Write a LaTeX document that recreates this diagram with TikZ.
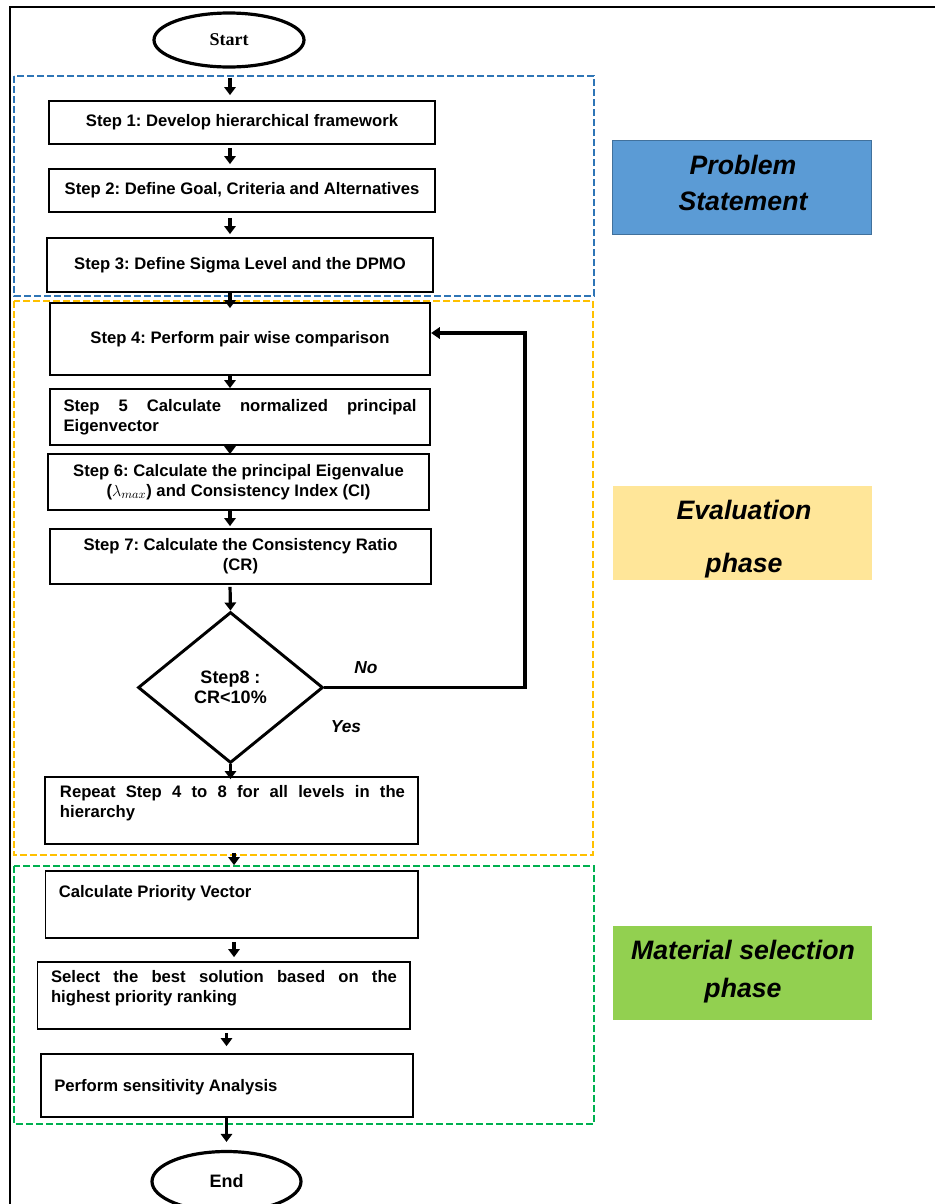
\documentclass[tikz,border=0pt]{standalone}
\usepackage{fontspec}
\setmainfont{Liberation Sans}
\newfontfamily\serifbf{Liberation Serif}
\usetikzlibrary{arrows.meta,shapes.geometric}
\definecolor{blueDash}{HTML}{2E75B6}
\definecolor{yellowDash}{HTML}{FFC000}
\definecolor{greenDash}{HTML}{00B050}
\definecolor{psFill}{HTML}{5B9BD5}
\definecolor{psBorder}{HTML}{41719C}
\definecolor{evFill}{HTML}{FFE699}
\definecolor{matFill}{HTML}{92D050}
\newcommand\myNoHyph{\hyphenpenalty 10000\relax\tolerance 10000\relax\frenchspacing}
\begin{document}
\begin{tikzpicture}[x=0.75pt,y=-0.75pt,
  box/.style={draw,line width=1.3pt,rectangle,inner sep=0pt,align=center,
    font=\fontsize{12.5}{15}\selectfont\bfseries\myNoHyph},
  txt/.style={inner sep=0pt,font=\fontsize{12.5}{15}\selectfont\bfseries\myNoHyph},
  flowarr/.style={line width=2.4pt,-{Triangle[length=6pt,width=8.5pt]}},
  frame/.style={line width=1.1pt,dash pattern=on 5pt off 2.5pt},
  phase/.style={inner sep=0pt,minimum width=194.25pt,minimum height=70.5pt},
  phasetext/.style={inner sep=0pt,align=center},
  term/.style={ellipse,draw,line width=2.4pt,inner sep=0pt},
  yn/.style={inner sep=0pt,font=\fontsize{13}{15}\selectfont\bfseries\itshape}]
\useasboundingbox (0,0) rectangle (935,1204);
\clip (0,0) rectangle (935,1204);
\fill[white] (0,0) rectangle (935,1204);

% outer border
\draw[line width=1.5pt] (10,1215) -- (10,7) -- (945,7);

% phase frames
\draw[frame,draw=blueDash] (14,76) rectangle (594,296);
\draw[frame,draw=yellowDash] (14,301) rectangle (593,855);
\draw[frame,draw=greenDash] (14,866) rectangle (594,1124);

% axis helpers
\coordinate (ax) at (230,0);
\coordinate (bx) at (234,0);
\coordinate (cx) at (226.5,0);
\coordinate (fbx) at (525,0);

% nodes
\node[term,minimum width=112.5pt,minimum height=40.5pt] (start) at (229,40)
  {\serifbf\fontsize{13.5}{15}\selectfont\bfseries Start};
\node[box,minimum width=289.5pt,minimum height=32.25pt] (s1) at (242,122.5)
  {Step 1: Develop hierarchical framework};
\node[box,minimum width=289.5pt,minimum height=32.25pt] (s2) at (242,190.5)
  {Step 2: Define Goal, Criteria and Alternatives};
\node[box,minimum width=289pt,minimum height=40.5pt] (s3) at (240,265)
  {Step 3: Define Sigma Level and the DPMO};
\node[box,minimum width=285.4pt,minimum height=54pt] (s4) at (240,339)
  {Step 4: Perform pair wise comparison};
\node[box,minimum width=285.4pt,minimum height=42pt,text width=264.75pt,align=justify] (s5) at (240,417)
  {Step 5 Calculate normalized principal Eigenvector};
\node[box,minimum width=285.75pt,minimum height=42pt] (s6) at (238.5,482)
  {Step 6: Calculate the principal Eigenvalue\\($\lambda_{max}$) and Consistency Index (CI)};
\node[box,minimum width=285.75pt,minimum height=41.25pt] (s7) at (240.5,556.5)
  {Step 7: Calculate the Consistency Ratio\\(CR)};
\node[diamond,draw,line width=2.2pt,minimum width=138.75pt,minimum height=113.25pt,inner sep=0pt,
  align=center,font=\fontsize{13.5}{15}\selectfont\bfseries] (d8) at (230.5,687.5)
  {Step8 :\\CR<10\%};
\node[box,minimum width=279.75pt,minimum height=50.25pt] (r) at (231.5,810.5) {};
\node[txt,text width=258.75pt,align=justify] (rt) at (232.5,803.5)
  {Repeat Step 4 to 8 for all levels in the hierarchy};
\node[box,minimum width=279.4pt,minimum height=50.25pt] (pv) at (231.75,904.5) {};
\node[txt,anchor=west] (pvt) at (58.5,893) {Calculate Priority Vector};
\node[box,minimum width=279.4pt,minimum height=50.25pt] (sel) at (223.75,995.5) {};
\node[txt,text width=259.5pt,align=justify] (selt) at (224,988.5)
  {Select the best solution based on the highest priority ranking};
\node[box,minimum width=279.2pt,minimum height=47.25pt] (perf) at (226.85,1085.5) {};
\node[txt,anchor=west] (perft) at (54,1087) {Perform sensitivity Analysis};
\node[term,minimum width=111.75pt,minimum height=45pt] (end) at (226.5,1181.5)
  {\fontsize{13.5}{15}\selectfont\bfseries End};

% labels
\node[yn] (no) at (366,668) {No};
\node[yn] (yes) at (346,727) {Yes};

% phase labels
\node[phase,fill=psFill,draw=psBorder,line width=0.8pt] (ps) at (742,187.5) {};
\node[phasetext,font=\fontsize{20}{27}\selectfont\bfseries\itshape] (pst) at (743,183)
  {Problem\\Statement};
\node[phase,fill=evFill] (ev) at (742.5,533) {};
\node[phasetext,font=\fontsize{20}{39.75}\selectfont\bfseries\itshape] (evt) at (744,539.5)
  {Evaluation\\phase};
\node[phase,fill=matFill] (mat) at (742.5,973) {};
\node[phasetext,font=\fontsize{20}{28.5}\selectfont\bfseries\itshape] (matt) at (743,972)
  {Material selection\\phase};

% connectors
\draw[flowarr,shorten <=6.75pt,shorten >=3.75pt] (start.south -| ax) -- (s1.north -| ax);
\draw[flowarr,shorten <=2.25pt,shorten >=3pt] (s1.south -| ax) -- (s2.north -| ax);
\draw[flowarr,shorten <=3.75pt,shorten >=2.25pt] (s2.south -| ax) -- (s3.north -| ax);
\draw[flowarr,shorten >=-4.5pt] (s3.south -| ax) -- (s4.north -| ax);
\draw[flowarr] (s4.south -| ax) -- (s5.north -| ax);
\draw[flowarr,shorten >=-0.75pt] (s5.south -| ax) -- (s6.north -| ax);
\draw[flowarr,shorten >=1.5pt] (s6.south -| ax) -- (s7.north -| ax);
\draw[flowarr,shorten <=1.5pt] (s7.south -| ax) -- (d8.north);
\draw[flowarr,shorten >=-2.25pt] (d8.south) -- (r.north -| d8.south);
\draw[flowarr,shorten <=6pt,shorten >=3.75pt] (r.south -| bx) -- (pv.north -| bx);
\draw[flowarr,shorten <=2.25pt,shorten >=3pt] (pv.south -| bx) -- (sel.north -| bx);
\draw[flowarr,shorten <=2.25pt,shorten >=5.25pt] (sel.south -| cx) -- (perf.north -| cx);
\draw[flowarr,shorten >=6pt] (perf.south -| cx) -- (end.north -| cx);

% feedback loop (No)
\coordinate (s4up) at ([yshift=4.5pt]s4.east);
\draw[line width=2.4pt,-{Triangle[length=6.5pt,width=8.5pt]}]
  (d8.east) -- (d8.east -| fbx) -- (fbx |- s4up) -- (s4up);
\end{tikzpicture}
\end{document}
